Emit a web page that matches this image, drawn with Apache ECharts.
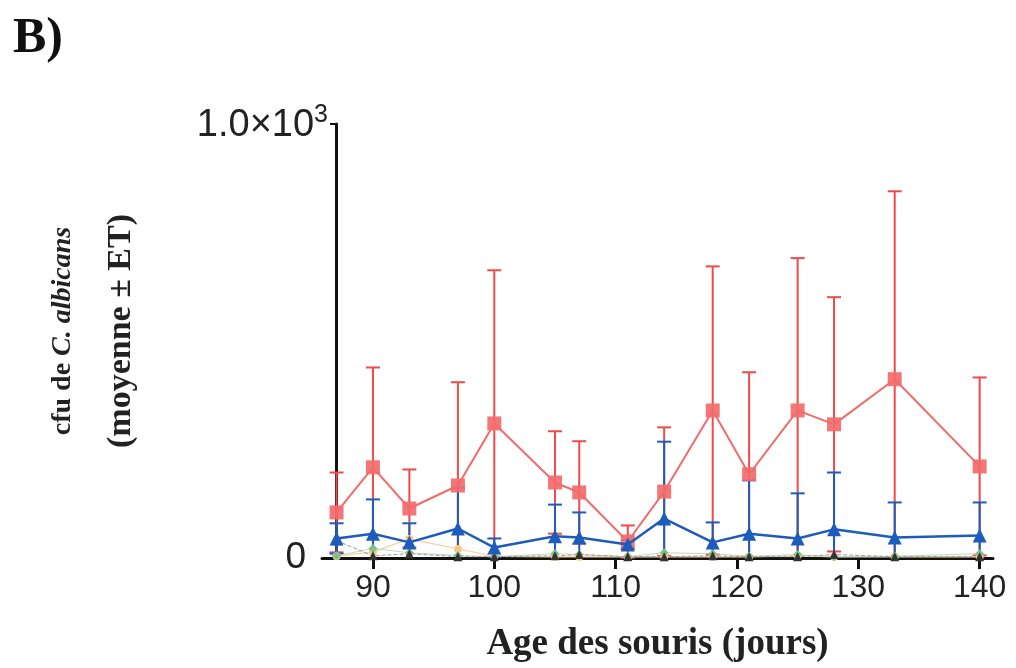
<!DOCTYPE html>
<html>
<head>
<meta charset="utf-8">
<script src="https://cdn.jsdelivr.net/npm/echarts@6/dist/echarts.min.js"></script>
<style>
  html, body { margin: 0; padding: 0; background: #fff; }
  #chart { width: 1016px; height: 668px; }
</style>
</head>
<body>
<div id="chart"></div>
<script>
/* Age of mice (days) at each sampling */
let AGES = [87, 90, 93, 97, 100, 105, 107, 111, 114, 118, 121, 125, 128, 133, 140];

/* cfu means and SD */
let RED_MEAN = [105, 209, 114, 167, 310, 174, 151, 38, 153, 340, 193, 340, 308, 412, 211];
let RED_SD = [92, 230, 90, 238, 353, 118, 118, 37, 148, 332, 235, 351, 293, 433, 205];

let BLUE_MEAN = [45, 56, 36, 68, 24, 50, 47, 31, 91, 36, 56, 45, 66, 47, 52];
let BLUE_SD = [35, 79, 44, 94, 21, 73, 58, 10, 177, 46, 123, 104, 131, 81, 76];

let ORANGE_MEAN = [4, 14, 44, 21, 4, 3, 3, 3, 3, 3, 3, 6, 3, 3, 3];
let GREEN_MEAN = [5, 22, 12, 6, 3, 10, 8, 3, 12, 10, 4, 8, 3, 4, 10];
let BLACK_MEAN = [40, 5, 10, 3, 3, 5, 8, 3, 3, 5, 3, 3, 8, 3, 3];

let X_TICKS = [90, 100, 110, 120, 130, 140];
let Y_LABELS = [0, 1000];

let RED = "#f26b6b";
let RED_BAR = "#f04a4a";
let BLUE = "#1d5bbd";

function errorBars(mean, sd, color, capHalf, z) {
  return {
    type: "custom",
    z: z,
    silent: true,
    encode: { x: 0, y: 1 },
    data: AGES.map(function (a, i) { return [a, mean[i], sd[i]]; }),
    renderItem: function (params, api) {
      let x = api.value(0), m = api.value(1), s = api.value(2);
      let lo = Math.max(0, m - s);
      let top = api.coord([x, m + s]);
      let bot = api.coord([x, lo]);
      let st = { stroke: color, lineWidth: 2 };
      let kids = [
        { type: "line", shape: { x1: top[0], y1: top[1], x2: bot[0], y2: bot[1] }, style: st },
        { type: "line", shape: { x1: top[0] - capHalf, y1: top[1], x2: top[0] + capHalf, y2: top[1] }, style: st }
      ];
      if (m - s > 0) {
        kids.push({ type: "line", shape: { x1: bot[0] - capHalf, y1: bot[1], x2: bot[0] + capHalf, y2: bot[1] }, style: st });
      }
      return { type: "group", children: kids };
    }
  };
}

function pairs(vals) {
  return AGES.map(function (a, i) { return [a, vals[i]]; });
}

let chart = echarts.init(document.getElementById("chart"), null, { renderer: "canvas" });

chart.setOption({
  animation: false,
  backgroundColor: "#fff",
  title: {
    text: "B)",
    left: 8,
    top: 9,
    textStyle: { fontFamily: "Liberation Serif", fontWeight: "bold", fontSize: 50, color: "#111" }
  },
  grid: { left: 322, right: 23, top: 124, bottom: 110 },
  xAxis: {
    type: "value",
    min: 85.8,
    max: 141.1,
    splitLine: { show: false },
    axisLine: { onZero: false, lineStyle: { color: "#111", width: 3 } },
    axisTick: { customValues: X_TICKS, length: 11, lineStyle: { color: "#111", width: 3 } },
    axisLabel: {
      customValues: X_TICKS,
      margin: 14,
      fontFamily: "Liberation Sans",
      fontSize: 32,
      color: "#222"
    },
    name: "Age des souris (jours)",
    nameLocation: "middle",
    nameGap: 68,
    nameTextStyle: { fontFamily: "Liberation Serif", fontWeight: "bold", fontSize: 37, color: "#222" }
  },
  yAxis: {
    type: "value",
    min: 0,
    max: 1000,
    offset: -14,
    splitLine: { show: false },
    axisLine: { show: true, lineStyle: { color: "#111", width: 3 } },
    axisTick: { customValues: [1000], length: 6, lineStyle: { color: "#111", width: 2 } },
    axisLabel: {
      customValues: Y_LABELS,
      margin: 8,
      formatter: function (v) {
        return v === 0 ? "{z|0}" : "{b|1.0×10}{s|3}";
      },
      rich: {
        z: { fontFamily: "Liberation Sans", fontSize: 37, color: "#222", padding: [0, 22, 0, 0] },
        b: { fontFamily: "Liberation Sans", fontSize: 38, color: "#222", lineHeight: 42, verticalAlign: "bottom" },
        s: { fontFamily: "Liberation Sans", fontSize: 25, color: "#222", verticalAlign: "top", lineHeight: 42 }
      }
    },
    name: "{a|cfu de }{i|C. albicans}\n{c|(moyenne ± ET)}",
    nameLocation: "middle",
    nameRotate: 90,
    nameGap: 186,
    nameTextStyle: {
      padding: [0, 0, 0, 20],
      rich: {
        a: { fontFamily: "Liberation Serif", fontWeight: "bold", fontSize: 28, color: "#222", lineHeight: 58 },
        i: { fontFamily: "Liberation Serif", fontWeight: "bold", fontStyle: "italic", fontSize: 28, color: "#222", lineHeight: 58 },
        c: { fontFamily: "Liberation Serif", fontWeight: "bold", fontSize: 34, color: "#222", lineHeight: 58 }
      }
    }
  },
  series: [
    errorBars(RED_MEAN, RED_SD, RED_BAR, 7, 2),
    errorBars(BLUE_MEAN, BLUE_SD, BLUE, 7, 3),
    {
      type: "line",
      data: pairs(ORANGE_MEAN),
      z: 4,
      symbol: "circle",
      symbolSize: 8,
      itemStyle: { color: "#f7c88a" },
      lineStyle: { color: "#f9d6a8", width: 1.5 }
    },
    {
      type: "line",
      data: pairs(GREEN_MEAN),
      z: 4,
      symbol: "diamond",
      symbolSize: 9,
      itemStyle: { color: "#7cc08a" },
      lineStyle: { color: "#b9dcbf", width: 1 }
    },
    {
      type: "line",
      data: pairs(BLACK_MEAN),
      z: 4,
      symbol: "triangle",
      symbolSize: 9,
      itemStyle: { color: "#333" },
      lineStyle: { color: "#999", width: 1, type: "dashed" }
    },
    {
      type: "line",
      data: pairs(RED_MEAN),
      z: 5,
      symbol: "rect",
      symbolSize: 14,
      itemStyle: { color: RED, opacity: 0.92 },
      lineStyle: { color: RED, width: 2 }
    },
    {
      type: "line",
      data: pairs(BLUE_MEAN),
      z: 6,
      symbol: "triangle",
      symbolSize: 14,
      itemStyle: { color: BLUE },
      lineStyle: { color: BLUE, width: 2.5 }
    }
  ]
});
</script>
</body>
</html>
